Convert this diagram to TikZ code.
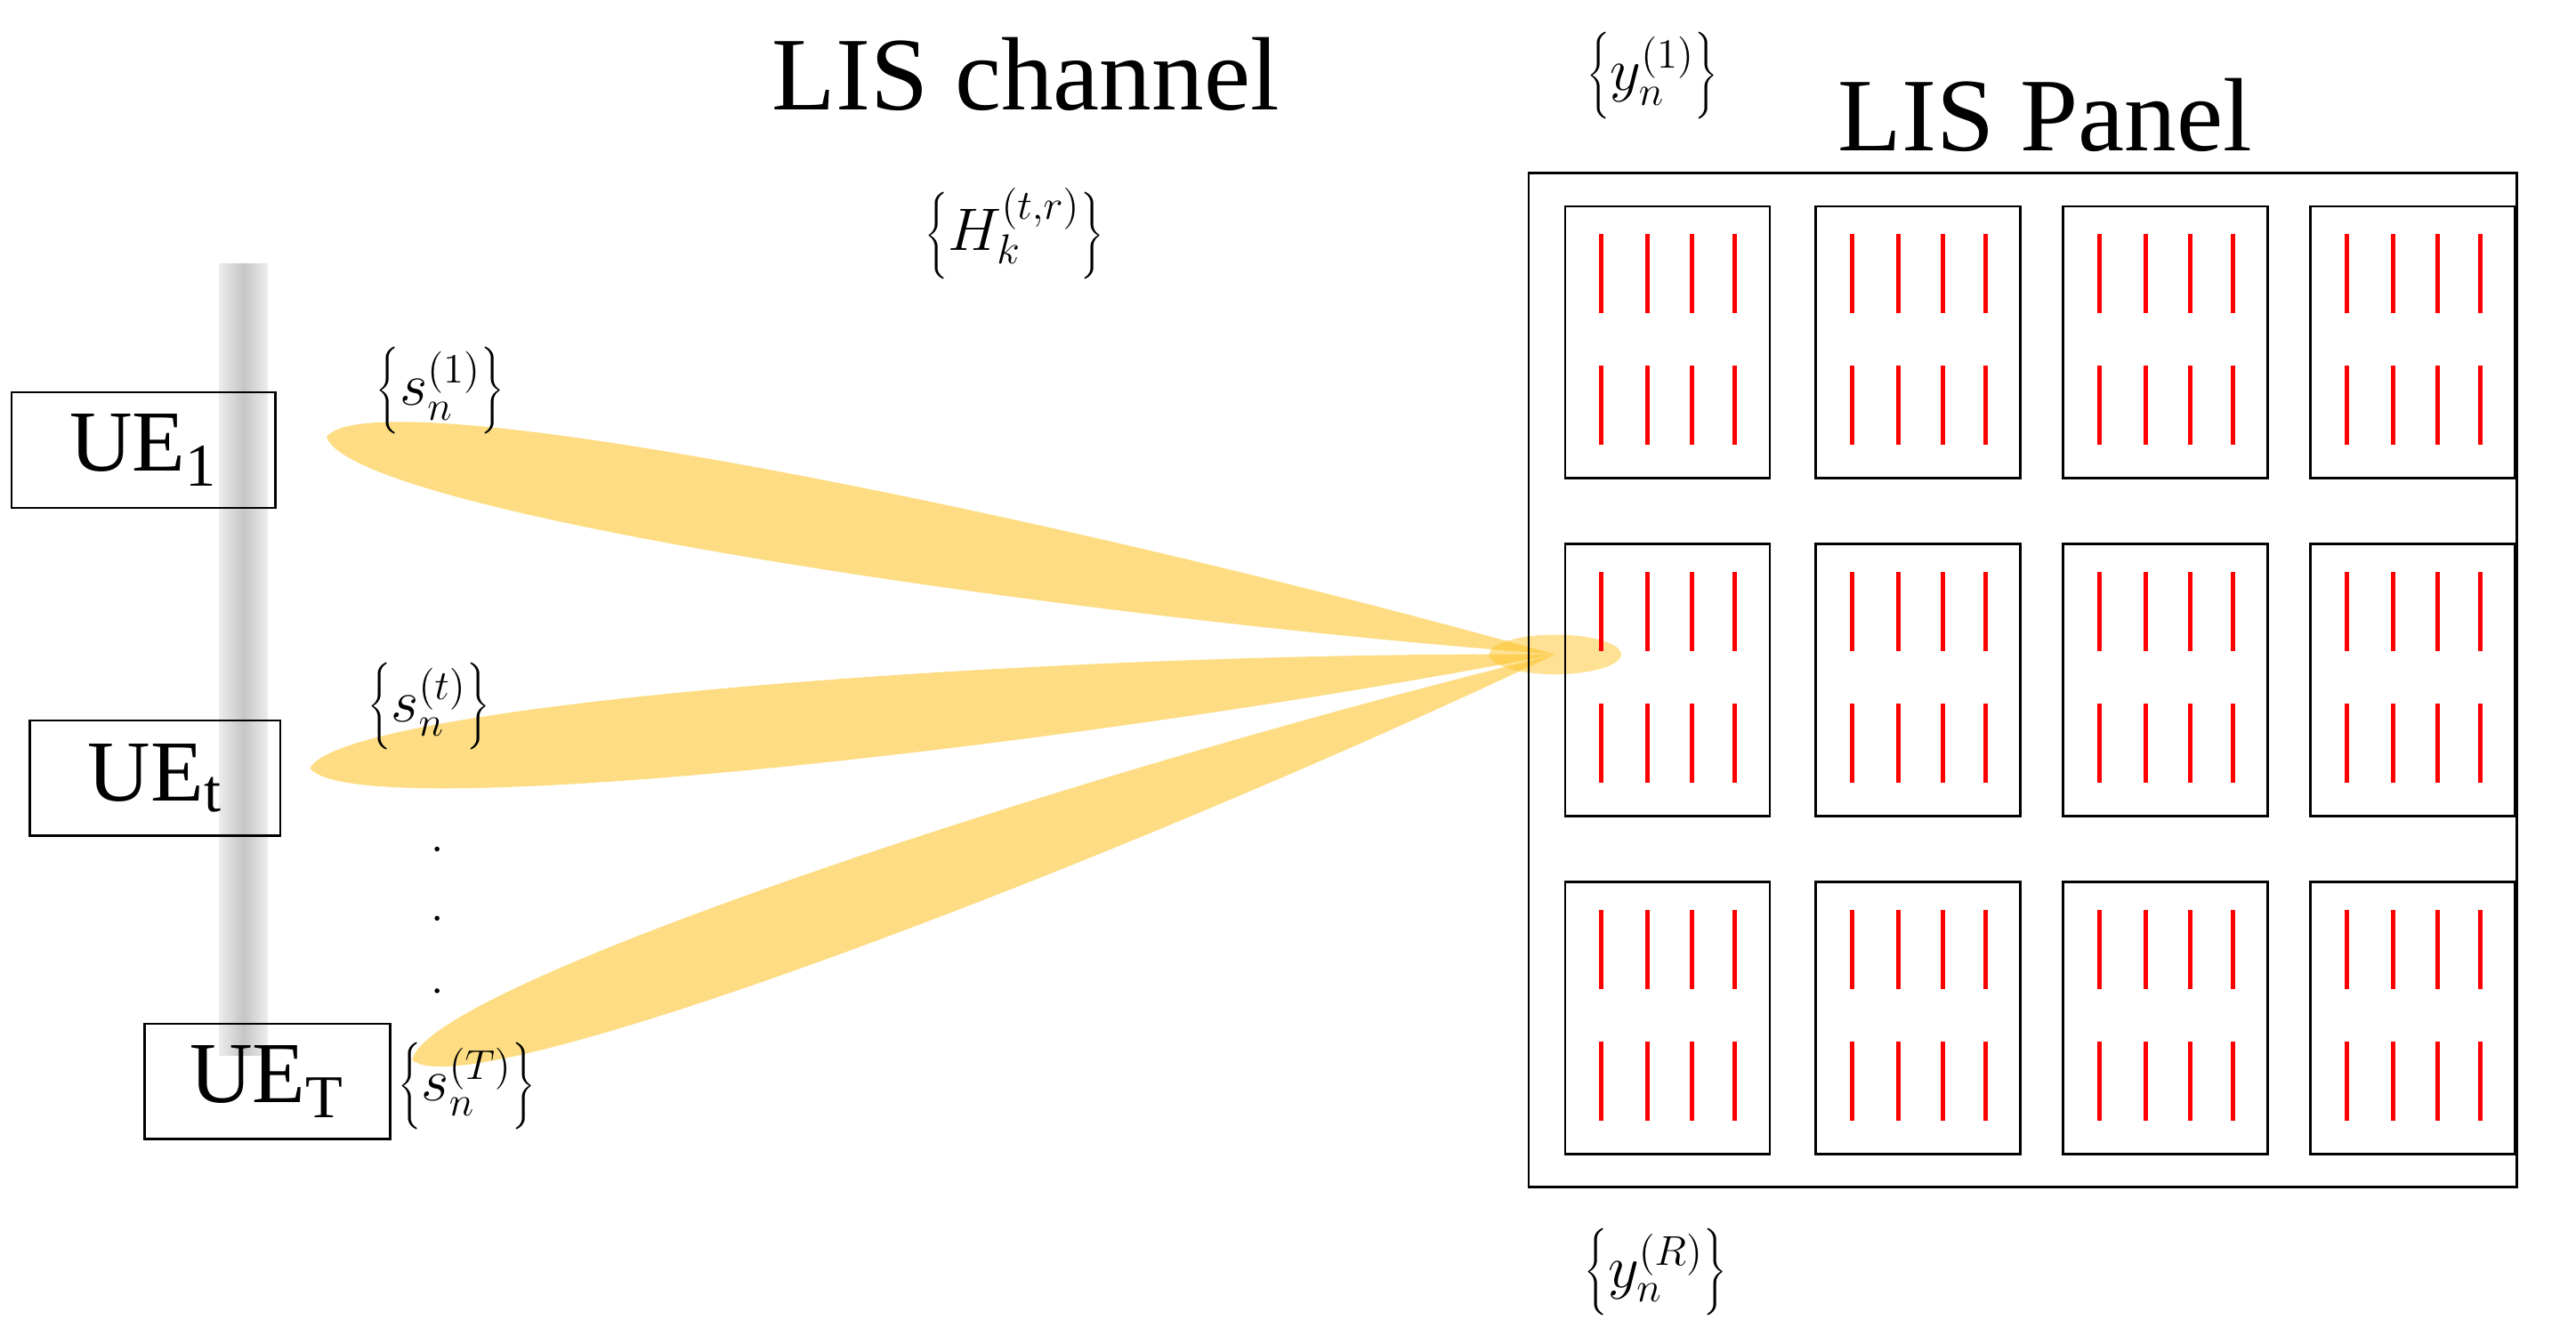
\documentclass[tikz,border=0pt]{standalone}
\usepackage{fontspec}
\setmainfont{Liberation Serif}
\usetikzlibrary{calc}
\definecolor{beamc}{RGB}{253,208,90}
\definecolor{tipc}{RGB}{253,195,40}
\newcommand{\brc}[1]{$\left\{\rule[-0.4cm]{0pt}{1.1cm}#1\right\}$}
\begin{document}
\begin{tikzpicture}[x=0.02cm,y=-0.02cm,
  big/.style={font=\fontsize{36}{40}\selectfont,inner sep=0},
  ue/.style={draw,line width=0.8pt,font=\fontsize{30}{34}\selectfont,inner sep=0,minimum height=1.4cm},
  lab/.style={font=\fontsize{22}{26}\selectfont,inner sep=0},
  sub/.style={draw,line width=0.7pt},
  el/.style={red,line width=1.6pt},
  beam/.style={fill=beamc,opacity=0.75}]
\useasboundingbox (0,0) rectangle (1562,810);
% grey pole
\shade[left color=gray!15,right color=gray!15,middle color=gray!45] (133,160) rectangle (162,640);
% beams
\coordinate (tip) at (943,397);
\coordinate (b1) at (198,265);
\coordinate (b2) at (188,466);
\coordinate (b3) at (250,643);
\foreach \a/\w in {b1/0.85cm,b2/0.75cm,b3/0.8cm}{
\fill[beam] (\a) .. controls ($(\a)!0.03!(tip)!\w!90:(tip)$) and ($(\a)!0.6!(tip)!0.6cm!90:(tip)$) .. (tip)
  .. controls ($(\a)!0.6!(tip)!0.6cm!-90:(tip)$) and ($(\a)!0.03!(tip)!\w!-90:(tip)$) .. (\a);
}
\fill[tipc,opacity=0.5] (tip) ellipse [x radius=40, y radius=12];
% UE boxes
\node[ue,minimum width=3.2cm] (ue1) at (87,273) {UE\textsubscript{1}};
\node[ue,minimum width=3.04cm] (uet) at (94,472) {UE\textsubscript{t}};
\node[ue,minimum width=2.98cm] (ueT) at (162,656) {UE\textsubscript{T}};
\node[lab] (s1) at (267,238) {\brc{s_n^{(1)}}};
\node[lab] (st) at (260,430) {\brc{s_n^{(t)}}};
\node[lab] (sT) at (283,660) {\brc{s_n^{(T)}}};
\foreach \y [count=\i] in {515,557,601} \node[circle,fill,inner sep=0.6pt] (d\i) at (265,\y) {};
% titles
\node[big] (ch) at (622,45) {LIS channel};
\node[big] (pn) at (1240,70) {LIS Panel};
\node[lab] (H) at (615,143) {\brc{H_k^{(t,r)}}};
\node[lab] (y1) at (1002,47) {\brc{y_n^{(1)}}};
\node[lab] (yR) at (1004,773) {\brc{y_n^{(R)}}};
% panel
\draw[line width=0.8pt] (927,105) rectangle (1526,720);
\foreach \x in {949,1101,1251,1401}{
 \foreach \y in {125,330,535}{
  \draw[sub] (\x,\y) rectangle ++(124,165);
  \foreach \dx in {22,50,77,103}{
   \draw[el] (\x+\dx,\y+17) -- (\x+\dx,\y+65);
   \draw[el] (\x+\dx,\y+97) -- (\x+\dx,\y+145);
  }
 }
}
\end{tikzpicture}
\end{document}
